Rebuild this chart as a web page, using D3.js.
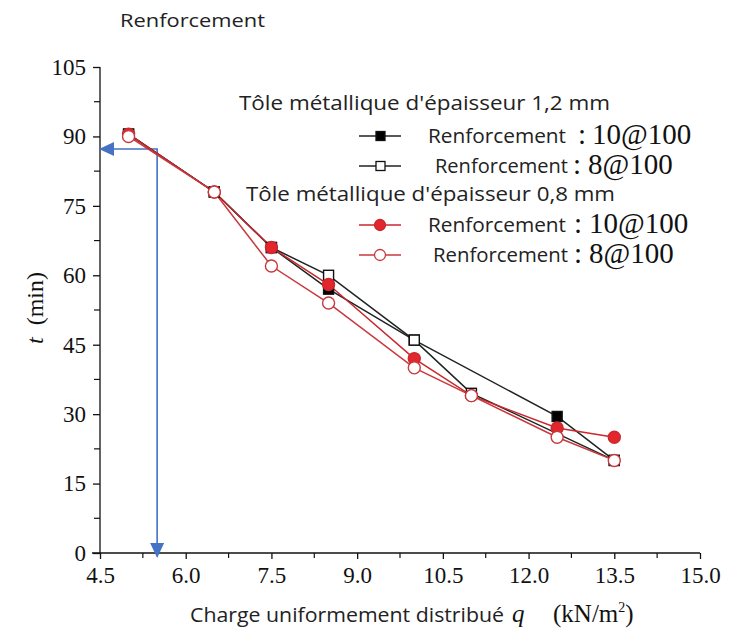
<!DOCTYPE html>
<html lang="fr">
<head>
<meta charset="UTF-8">
<title>Renforcement</title>
<script src="https://d3js.org/d3.v7.min.js"></script>
<style>
  body { margin: 0; background: #fff; }
  svg { display: block; }
  .sans { font-family: "Open Sans", "Noto Sans", sans-serif; fill: #222; }
  .serif { font-family: "Liberation Serif", "DejaVu Serif", serif; fill: #111; }
  .axis path, .axis line { stroke: #111; stroke-width: 1.3; }
  .axis text { font-family: "Liberation Serif", serif; font-size: 23px; fill: #111; }
</style>
</head>
<body>
<svg width="731" height="634"></svg>
<script>
// charge q (kN/m2)
const qValues = [5, 6.5, 7.5, 8.5, 10, 11, 12.5, 13.5];

// fire resistance time t (min), null = no point
const tole12_10 = [90.5, 78, 66, 57, 46, null, 29.5, 20];
const tole12_8  = [90.5, 78, 66, 60, 46, 34.5, null, 20];
const tole08_10 = [90.5, 78, 66, 58, 42, 34, 27, 25];
const tole08_8  = [90, 78, 62, 54, 40, 34, 25, 20];

const xTicks = [4.5, 6.0, 7.5, 9.0, 10.5, 12.0, 13.5, 15.0];
const yTicks = [0, 15, 30, 45, 60, 75, 90, 105];

// blue reading line
const readQ = 5.5, readT = 87.3;

const series = [
  { values: tole12_10, color: "#1e2422", shape: "square", fill: "#000" },
  { values: tole12_8,  color: "#1e2422", shape: "square", fill: "#fff" },
  { values: tole08_10, color: "#c8282e", shape: "circle", fill: "#e3262b" },
  { values: tole08_8,  color: "#c8383c", shape: "circle", fill: "#fff" }
];

const svg = d3.select("svg");

const x = d3.scaleLinear().domain([4.5, 15]).range([100, 700]);
const y = d3.scaleLinear().domain([0, 105]).range([553, 67]);

// axes
const xAxis = d3.axisBottom(x).tickValues(xTicks).tickFormat(d3.format(".1f")).tickSize(6).tickPadding(8);
const yAxis = d3.axisLeft(y).tickValues(yTicks).tickSize(7).tickPadding(7);

svg.append("g").attr("class", "axis")
  .attr("transform", `translate(0,${y(0)})`)
  .call(xAxis)
  .call(g => g.select(".domain").attr("d", `M${x(4.5) - 8},0H${x(15)}`));

svg.append("g").attr("class", "axis")
  .attr("transform", `translate(${x(4.5)},0)`)
  .call(yAxis)
  .call(g => g.select(".domain").attr("d", `M0,${y(105)}V${y(0)}`));

// minor ticks
const xMinor = d3.range(4.5 + 0.75, 15, 1.5);
svg.append("g").selectAll("line").data(xMinor).join("line")
  .attr("x1", d => x(d)).attr("x2", d => x(d))
  .attr("y1", y(0)).attr("y2", y(0) + 5)
  .attr("stroke", "#111").attr("stroke-width", 1.2);

const yMinor = d3.range(7.5, 105, 15);
svg.append("g").selectAll("line").data(yMinor).join("line")
  .attr("x1", x(4.5) - 6).attr("x2", x(4.5))
  .attr("y1", d => y(d)).attr("y2", d => y(d))
  .attr("stroke", "#111").attr("stroke-width", 1.2);

// axis titles
svg.append("text").attr("class", "serif")
  .attr("transform", `translate(43,308) rotate(-90)`)
  .attr("text-anchor", "middle")
  .attr("font-size", 24)
  .attr("xml:space", "preserve")
  .html('<tspan font-style="italic">t</tspan>  (min)');

const xt = svg.append("text").attr("y", 622);
xt.append("tspan").attr("class", "sans").attr("x", 190).attr("font-size", 20)
  .attr("textLength", 314).attr("lengthAdjust", "spacingAndGlyphs")
  .text("Charge uniformement distribué");
xt.append("tspan").attr("class", "serif").attr("x", 512).attr("font-size", 25).attr("font-style", "italic").text("q");
xt.append("tspan").attr("class", "serif").attr("x", 553).attr("font-size", 25).text("(kN/m");
xt.append("tspan").attr("class", "serif").attr("font-size", 14).attr("dy", -10).text("2");
xt.append("tspan").attr("class", "serif").attr("font-size", 25).attr("dy", 10).text(")");

// title
svg.append("text").attr("class", "sans")
  .attr("x", 120).attr("y", 27).attr("font-size", 19)
  .attr("textLength", 145).attr("lengthAdjust", "spacingAndGlyphs")
  .text("Renforcement");

// blue arrows
const blue = "#4472c4";
svg.append("path")
  .attr("d", `M${x(readQ)},${y(0) - 8}V${y(readT)}H${x(4.5) + 14}`)
  .attr("fill", "none").attr("stroke", blue).attr("stroke-width", 1.6);
svg.append("path")
  .attr("d", `M${x(4.5) - 1},${y(readT)}l15,-7v14z`)
  .attr("fill", blue);
svg.append("path")
  .attr("d", `M${x(readQ)},${y(0) + 5}l-7,-15h14z`)
  .attr("fill", blue);

// lines and markers
const line = d3.line().x(d => x(d[0])).y(d => y(d[1]));

series.forEach(s => {
  s.pts = qValues.map((q, i) => [q, s.values[i]]).filter(d => d[1] != null);
  svg.append("path").datum(s.pts)
    .attr("d", line)
    .attr("fill", "none")
    .attr("stroke", s.color)
    .attr("stroke-width", 1.5);
});

series.forEach(s => {
  const g = svg.append("g");
  if (s.shape === "square") {
    g.selectAll("rect").data(s.pts).join("rect")
      .attr("x", d => x(d[0]) - 5).attr("y", d => y(d[1]) - 5)
      .attr("width", 10).attr("height", 10)
      .attr("fill", s.fill).attr("stroke", "#111").attr("stroke-width", 1.4);
  } else {
    g.selectAll("circle").data(s.pts).join("circle")
      .attr("cx", d => x(d[0])).attr("cy", d => y(d[1]))
      .attr("r", 6)
      .attr("fill", s.fill).attr("stroke", s.color).attr("stroke-width", 1.4);
  }
});

// legend
const legendTitles = ["Tôle métallique d'épaisseur 1,2 mm", "Tôle métallique d'épaisseur 0,8 mm"];
const legendLabels = ["Renforcement", "Renforcement", "Renforcement", "Renforcement"];
const legendCodes = ["10@100", "8@100", "10@100", "8@100"];
const titleY = [103, 194];
const titleX = [239, 246];
const titleW = [371, 369];
const rowY = [136, 166, 225, 255];
const rowX = [428, 435, 428, 433];
const rowW = [138, 133, 138, 135];
const colonX = [578, 573, 574, 574];
const codeX = [592, 588, 589, 589];

legendTitles.forEach((t, i) => {
  svg.append("text").attr("class", "sans")
    .attr("x", titleX[i]).attr("y", titleY[i] + 7)
    .attr("font-size", 20.5)
    .attr("textLength", titleW[i]).attr("lengthAdjust", "spacingAndGlyphs")
    .text(t);
});

series.forEach((s, i) => {
  const cy = rowY[i];
  svg.append("line")
    .attr("x1", 359).attr("x2", 401).attr("y1", cy).attr("y2", cy)
    .attr("stroke", s.color).attr("stroke-width", 1.6);
  if (s.shape === "square") {
    svg.append("rect").attr("x", 376).attr("y", cy - 4.5)
      .attr("width", 9).attr("height", 9)
      .attr("fill", s.fill).attr("stroke", "#111").attr("stroke-width", 1.3);
  } else {
    svg.append("circle").attr("cx", 380).attr("cy", cy).attr("r", 5.5)
      .attr("fill", s.fill).attr("stroke", s.color).attr("stroke-width", 1.3);
  }
  svg.append("text").attr("class", "sans")
    .attr("x", rowX[i]).attr("y", cy + 7).attr("font-size", 20.5)
    .attr("textLength", rowW[i]).attr("lengthAdjust", "spacingAndGlyphs")
    .text(legendLabels[i]);
  svg.append("text").attr("class", "serif")
    .attr("x", colonX[i]).attr("y", cy + 8).attr("font-size", 29)
    .text(":");
  svg.append("text").attr("class", "serif")
    .attr("x", codeX[i]).attr("y", cy + 8).attr("font-size", 29)
    .text(legendCodes[i]);
});
</script>
</body>
</html>
